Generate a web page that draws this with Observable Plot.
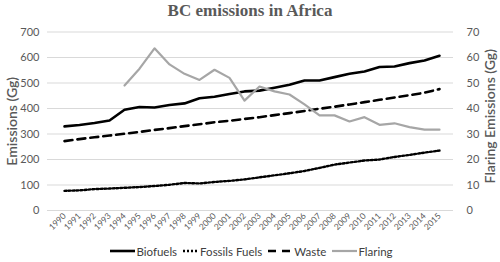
<!DOCTYPE html>
<html>
<head>
<meta charset="utf-8">
<script src="https://cdn.jsdelivr.net/npm/d3@7"></script>
<script src="https://cdn.jsdelivr.net/npm/@observablehq/plot@0.6"></script>
<style>
  html, body { margin: 0; padding: 0; background: #fff; }
  #wrap { width: 500px; height: 262px; position: relative; overflow: hidden; font-family: Lato, "Open Sans", sans-serif; }
  #title { height: 22px; line-height: 22px; text-align: center; font-family: "Liberation Serif", "DejaVu Serif", serif; font-weight: bold; font-size: 17px; color: #595959; }
  #legend { height: 22px; display: flex; justify-content: center; align-items: center; font-size: 11.5px; color: #404040; padding-left: 3px; }
  #legend .item { display: flex; align-items: center; margin: 0 3px; }
  #legend svg { margin-right: 1px; }
</style>
</head>
<body>
<div id="wrap">
  <div id="title">BC emissions in Africa</div>
  <div id="chart"></div>
  <div id="legend"></div>
</div>
<script>
const years = [1990,1991,1992,1993,1994,1995,1996,1997,1998,1999,2000,2001,2002,2003,2004,2005,2006,2007,2008,2009,2010,2011,2012,2013,2014,2015];
const biofuels = [330,335,343,353,395,406,404,414,420,440,446,457,467,470,481,493,510,510,523,536,545,563,565,578,588,607];
const fossils = [77,79,84,86,89,92,96,101,108,106,112,116,122,130,138,146,155,167,180,188,196,200,210,218,227,235];
const waste = [272,280,287,294,301,308,316,323,331,338,346,352,359,366,374,382,390,399,407,416,425,434,443,452,462,476];
const flaring = [null,null,null,null,49.0,55.6,63.6,57.3,53.6,51.2,55.2,52.0,43.1,48.6,46.7,45.5,41.6,37.3,37.3,34.9,36.6,33.6,34.2,32.7,31.7,31.7];
const leftTicks = [0,100,200,300,400,500,600,700];
const rightTicks = [0,10,20,30,40,50,60,70];

const rows = (vals) => years.map((y, i) => ({year: y, v: vals[i]}));
const flaringRows = years.map((y, i) => ({year: y, v: flaring[i]})).filter(d => d.v != null);

const grey = "#595959";
const chart = Plot.plot({
  width: 500,
  height: 218,
  marginTop: 9.5,
  marginBottom: 30,
  marginLeft: 47,
  marginRight: 47,
  style: {fontFamily: "Lato, 'Open Sans', sans-serif", color: grey, background: "transparent"},
  x: {type: "point", domain: years, range: [53, 449]},
  y: {domain: [0, 700]},
  marks: [
    Plot.ruleY(leftTicks, {stroke: "#d9d9d9", strokeWidth: 1}),
    Plot.axisY(leftTicks, {anchor: "left", tickSize: 0, tickPadding: 8, fontSize: 11, label: null}),
    Plot.axisY(rightTicks.map(d => d * 10), {anchor: "right", tickSize: 0, tickPadding: 13, fontSize: 11, textAnchor: "start", tickFormat: d => String(d / 10), label: null}),
    Plot.axisX(years, {tickSize: 0, tickRotate: -45, tickPadding: 4, fontSize: 8.5, tickFormat: d => String(d), label: null}),
    Plot.line(rows(waste), {x: "year", y: "v", stroke: "black", strokeWidth: 2.6, strokeDasharray: "8,5"}),
    Plot.line(rows(fossils), {x: "year", y: "v", stroke: "black", strokeWidth: 2.4, strokeDasharray: "2,2"}),
    Plot.line(rows(biofuels), {x: "year", y: "v", stroke: "black", strokeWidth: 2.6}),
    Plot.line(flaringRows, {x: "year", y: d => d.v * 10, stroke: "#a6a6a6", strokeWidth: 2.2}),
    Plot.text(["Emissions (Gg)"], {frameAnchor: "left", dx: -35, dy: 0, rotate: -90, textAnchor: "middle", fontSize: 14, fill: grey, fontWeight: "600"}),
    Plot.text(["Flaring Emissions (Gg)"], {frameAnchor: "right", dx: 37, dy: -5, rotate: -90, textAnchor: "middle", fontSize: 14, fill: grey, fontWeight: "600"})
  ]
});
document.getElementById("chart").appendChild(chart);

const legendItems = [
  {name: "Biofuels", stroke: "black", dash: null, w: 2.6},
  {name: "Fossils Fuels", stroke: "black", dash: "2,2", w: 2.4},
  {name: "Waste", stroke: "black", dash: "8,6", w: 2.6},
  {name: "Flaring", stroke: "#a6a6a6", dash: null, w: 2.2}
];
const legend = document.getElementById("legend");
for (const it of legendItems) {
  const item = document.createElement("span");
  item.className = "item";
  const ns = "http://www.w3.org/2000/svg";
  const sw = it.name === "Fossils Fuels" ? 16 : 25;
  const s = document.createElementNS(ns, "svg");
  s.setAttribute("width", sw);
  s.setAttribute("height", 10);
  const l = document.createElementNS(ns, "line");
  l.setAttribute("x1", 0); l.setAttribute("x2", sw);
  l.setAttribute("y1", 5); l.setAttribute("y2", 5);
  l.setAttribute("stroke", it.stroke);
  l.setAttribute("stroke-width", it.w);
  if (it.dash) l.setAttribute("stroke-dasharray", it.dash);
  s.appendChild(l);
  item.appendChild(s);
  const t = document.createElement("span");
  t.textContent = it.name;
  item.appendChild(t);
  legend.appendChild(item);
}
</script>
</body>
</html>
